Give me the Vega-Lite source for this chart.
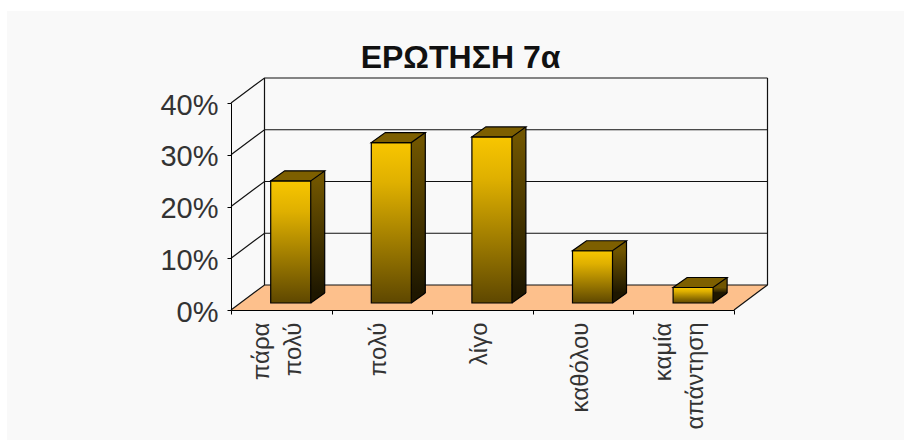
{
"$schema":"https://vega.github.io/schema/vega-lite/v6.json",
"width":503,"height":207,
"autosize":"none",
"padding":{"left":231,"top":103,"right":170,"bottom":130},
"background":"#ffffff",
"view":{"stroke":null},
"config":{"axis":{"labelFont":"Liberation Sans","labelColor":"#333333"}},
"title":{"text":"ΕΡΩΤΗΣΗ 7α","font":"Liberation Sans","fontWeight":"bold","fontSize":32,"color":"#111111","anchor":"middle","dx":-22,"offset":-64},
"datasets":{
"bars":[
{"category":"πάρα\nπολύ","share":0.236},
{"category":"πολύ","share":0.31},
{"category":"λίγο","share":0.321},
{"category":"καθόλου","share":0.101},
{"category":"καμία\nαπάντηση","share":0.03}
],
"levels":[{"level":0},{"level":0.1},{"level":0.2},{"level":0.3},{"level":0.4}]
},
"layer":[
{"data":{"name":"levels"},
 "encoding":{"y":{"field":"level","type":"quantitative","title":null,
   "scale":{"domain":[0,0.4],"nice":false},
   "axis":{"values":[0,0.1,0.2,0.3,0.4],"format":".0%","grid":false,"domainColor":"#000000","tickColor":"#000000","tickSize":4,"labelPadding":9,"labelFontSize":29,"labelOffset":2,"zindex":1}}},
 "layer":[
  {"transform":[{"filter":"datum.level === 0"}],
   "mark":{"type":"point","filled":true,"size":4,"opacity":1,"fill":"#f9f9f9","stroke":null,"shape":"M-475.5 -299L421.5 -299L421.5 130L-475.5 130Z"}},
  {"transform":[{"filter":"datum.level === 0"}],
   "mark":{"type":"point","filled":true,"size":4,"opacity":1,"fill":"#fdc08c","stroke":null,"shape":"M-251.5 0L-218 -25L285 -25L251.5 0Z"}},
  {"mark":{"type":"point","filled":false,"size":4,"opacity":1,"stroke":"#111111","strokeWidth":1.2,"shape":"M-251.5 0L-218 -25L285 -25"}},
  {"transform":[{"filter":"datum.level === 0"}],
   "mark":{"type":"point","filled":false,"size":4,"opacity":1,"stroke":"#111111","strokeWidth":1.2,"shape":"M-218 -25L-218 -232M285 -25L285 -232M251.5 0L285 -25"}}
 ]},
{"data":{"name":"bars"},
 "encoding":{
  "x":{"field":"category","type":"nominal","sort":null,"title":null,
    "scale":{"paddingInner":0,"paddingOuter":0},
    "axis":{"labelAngle":270,"labelAlign":"right","labelBaseline":"middle","labelFontSize":24,"labelLineHeight":32,"labelPadding":8,"labelLimit":200,"labelOverlap":false,"labelExpr":"split(datum.label,'\\n')",
      "labelOffset":{"condition":{"test":"indexof(datum.label,'\\n')>=0","value":-20},"value":-3},
      "tickBand":"extent","tickSize":4,"tickColor":"#000000","domainColor":"#000000","zindex":1,"grid":false}},
  "y":{"field":"share","type":"quantitative","stack":null,"title":null}
 },
 "layer":[
  {"mark":{"type":"bar","width":14,"xOffset":36.4,"yOffset":-7,"y2Offset":-17,
     "color":{"gradient":"linear","x1":0,"y1":0,"x2":0,"y2":1,"stops":[{"offset":0,"color":"#705500"},{"offset":1,"color":"#1e1700"}]}},
   "encoding":{"y2":{"datum":0}}},
  {"mark":{"type":"point","filled":true,"size":4,"opacity":1,"fill":"#705500","stroke":null,"shape":"M29.4 -7L43.4 -17L43.4 -6.5L29.4 -6.5Z"}},
  {"mark":{"type":"point","filled":true,"size":4,"opacity":1,"fill":"#1e1700","stroke":null,"shape":"M29.4 -7L43.4 -17L43.4 -17.5L29.4 -17.5Z"},
   "encoding":{"y":{"datum":0,"type":"quantitative"}}},
  {"mark":{"type":"rule","xOffset":43.4,"yOffset":-17,"y2Offset":-17,"stroke":"#000000","strokeWidth":1.2},
   "encoding":{"y2":{"datum":0}}},
  {"mark":{"type":"point","filled":false,"size":4,"opacity":1,"stroke":"#000000","strokeWidth":1.2,"shape":"M29.4 -7L43.4 -17"},
   "encoding":{"y":{"datum":0,"type":"quantitative"}}},
  {"mark":{"type":"bar","width":40,"xOffset":9.4,"yOffset":-7,"y2Offset":-7,"stroke":"#000000","strokeWidth":1.2,
     "color":{"gradient":"linear","x1":0,"y1":0,"x2":0,"y2":1,"stops":[{"offset":0,"color":"#f8c600"},{"offset":0.25,"color":"#dfb000"},{"offset":1,"color":"#5e4700"}]}},
   "encoding":{"y2":{"datum":0}}},
  {"mark":{"type":"point","filled":true,"size":4,"opacity":1,"fill":"#7d5f00","stroke":"#000000","strokeWidth":1.2,"shape":"M-10.6 -7L29.4 -7L43.4 -17L3.4 -17Z"}}
 ]}
]
}
